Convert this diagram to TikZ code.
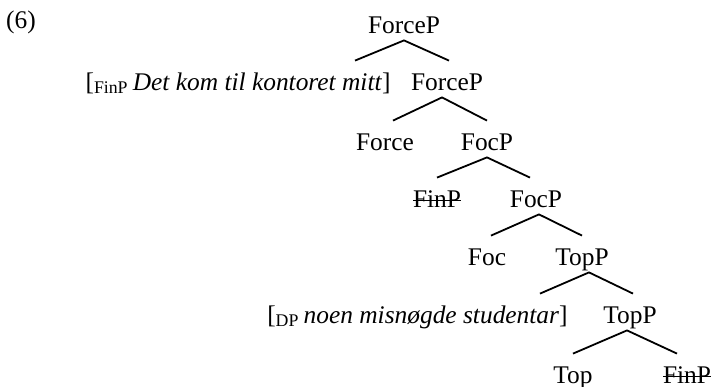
\documentclass[tikz,border=0pt]{standalone}
\usepackage{fontspec}
\setmainfont{Liberation Serif}

% strike a label through (deleted copy)
\newcommand{\struck}[1]{\sbox0{#1}\rlap{\rule[0.24em]{\wd0}{0.55pt}}\usebox0}

\tikzset{
  cat/.style={anchor=base, inner xsep=0pt, inner ysep=1pt,
    text height=13.5pt, text depth=2.5pt},
  spec/.style={cat, anchor=base east},
  branch/.style={line width=0.9pt, line join=miter},
}

\begin{document}
\begin{tikzpicture}[x=0.5pt, y=-0.5pt, font=\fontsize{12.7}{15}\selectfont]
  \useasboundingbox (0,0) rectangle (712,386);

  \node[anchor=base] (exno) at (21,28) {(6)};

  % labels, row by row
  \node[cat]  (forcep-a) at (404,33)  {ForceP};
  \node[spec] (spec-fin) at (391,90)  {[\textsubscript{FinP}\,\textit{Det kom til kontoret mitt}]};
  \node[cat]  (forcep-b) at (447,90)  {ForceP};
  \node[cat]  (force)    at (385,150) {Force};
  \node[cat]  (focp-a)   at (487,150) {FocP};
  \node[cat]  (finp-a)   at (437,207) {\struck{FinP}};
  \node[cat]  (focp-b)   at (536,207) {FocP};
  \node[cat]  (foc)      at (487,265) {Foc};
  \node[cat]  (topp-a)   at (582,265) {TopP};
  \node[spec] (spec-dp)  at (568,323) {[\textsubscript{DP}\,\textit{noen misnøgde studentar}]};
  \node[cat]  (topp-b)   at (630,323) {TopP};
  \node[cat]  (top)      at (573,383) {Top};
  \node[cat]  (finp-b)   at (687,383) {\struck{FinP}};

  % branches
  \draw[branch] ([xshift=-18pt]spec-fin.north east) -- (forcep-a.south) -- ([xshift=1pt]forcep-b.north);
  \draw[branch] ([xshift=4pt]force.north) -- ([xshift=-2.5pt]forcep-b.south) -- (focp-a.north);
  \draw[branch] (finp-a.north) -- (focp-a.south) -- ([xshift=-3pt]focp-b.north);
  \draw[branch] ([xshift=2pt]foc.north) -- ([xshift=1.5pt]focp-b.south) -- (topp-a.north);
  \draw[branch] ([xshift=-14pt]spec-dp.north east) -- ([xshift=3.5pt]topp-a.south) -- ([xshift=1.5pt]topp-b.north);
  \draw[branch] (top.north) -- ([xshift=-1.5pt]topp-b.south) -- ([xshift=-5pt]finp-b.north);
\end{tikzpicture}
\end{document}
